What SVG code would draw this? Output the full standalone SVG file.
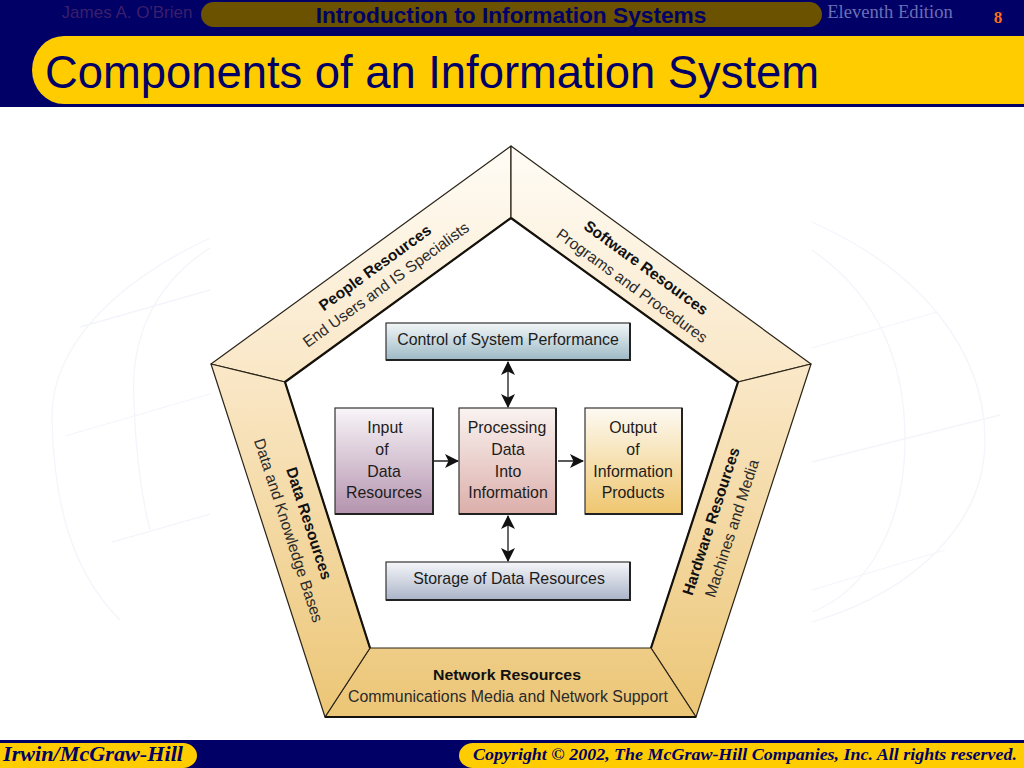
<svg xmlns="http://www.w3.org/2000/svg" width="1024" height="768" viewBox="0 0 1024 768">
<style>
.sans{font-family:"Liberation Sans",Arial,sans-serif}
.serif{font-family:"Liberation Serif","Times New Roman",serif}
.seg{stroke:#2a2418;stroke-width:1.2;stroke-linejoin:round;fill:url(#band)}
.edge{fill:none;stroke:#15120c;stroke-width:2.2;stroke-linejoin:round}
.box{stroke:#333;stroke-width:1.2}
.shade{fill:none;stroke:#222;stroke-width:2}
.lbl{font-family:"Liberation Sans",Arial,sans-serif;font-size:15.9px;fill:#1c1c1c;text-anchor:middle}
.bt{font-family:"Liberation Sans",Arial,sans-serif;font-size:15.5px;font-weight:bold;fill:#111;text-anchor:middle}
.st{font-family:"Liberation Sans",Arial,sans-serif;font-size:15.6px;fill:#2a2a2a;text-anchor:middle}
.conn{stroke:#444;stroke-width:1.6;fill:none}
.conn2{stroke:#222;stroke-width:1.5;fill:none}
.globe{fill:none;stroke:#f4f5fb;stroke-width:1.3}
.foot{font-family:"Liberation Serif","Times New Roman",serif;font-style:italic;font-weight:bold;fill:#000066}
</style>
<defs>
<linearGradient id="band" gradientUnits="userSpaceOnUse" x1="0" y1="146" x2="0" y2="717"><stop offset="0" stop-color="#fffcf6"/><stop offset=".42" stop-color="#f9e6c4"/><stop offset="1" stop-color="#ecc676"/></linearGradient>
<linearGradient id="g1" x1="0" y1="0" x2="0" y2="1"><stop offset="0" stop-color="#f2f6f7"/><stop offset="1" stop-color="#9dbac6"/></linearGradient>
<linearGradient id="g2" x1="0" y1="0" x2="0" y2="1"><stop offset="0" stop-color="#f8f5f8"/><stop offset="1" stop-color="#b493ae"/></linearGradient>
<linearGradient id="g3" x1="0" y1="0" x2="0" y2="1"><stop offset="0" stop-color="#f9f3f0"/><stop offset="1" stop-color="#dcaeaa"/></linearGradient>
<linearGradient id="g4" x1="0" y1="0" x2="0" y2="1"><stop offset="0" stop-color="#fdfaf3"/><stop offset="1" stop-color="#efc66e"/></linearGradient>
<linearGradient id="g5" x1="0" y1="0" x2="0" y2="1"><stop offset="0" stop-color="#f5f6f9"/><stop offset="1" stop-color="#aab4c8"/></linearGradient>
<marker id="ah" viewBox="0 0 14 14" refX="13" refY="7" markerWidth="14" markerHeight="14" markerUnits="userSpaceOnUse" orient="auto-start-reverse"><path d="M0 0L14 7L0 14L3.500 7Z" fill="#111"/></marker>
</defs>
<rect width="1024" height="768" fill="#fff"/>
<g id="background">
<path class="globe" d="M210 238C110 285 50 350 52 420C54 500 70 570 120 620M210 248C160 280 130 330 134 400C136 470 145 510 150 530M80 327L210 290M65 436L210 394M112 542L210 514"/>
<path class="globe" d="M812 222C920 270 985 350 985 440C985 520 920 590 812 622M812 250C870 290 905 350 905 440C905 520 870 590 812 612M812 348L937 312M812 462L1000 415M812 590L945 550"/>
</g>
<g id="header">
<rect width="1024" height="107" fill="#000066"/>
<rect x="201" y="2" width="621" height="25" rx="12.5" fill="#6b5200"/>
<path d="M64 104A32 34 0 0 1 64 36H1024V104Z" fill="#ffcc00"/>
<text class="sans" x="127" y="18" font-size="17" text-anchor="middle" fill="#3b1f6b">James A. O'Brien</text>
<text class="sans" x="511" y="23" font-size="22.7" font-weight="bold" text-anchor="middle" fill="#000066">Introduction to Information Systems</text>
<text class="serif" x="890" y="18" font-size="18.600" text-anchor="middle" fill="#6b6fb5">Eleventh Edition</text>
<text class="serif" x="998" y="23" font-size="17" font-weight="bold" text-anchor="middle" fill="#ff6a1a">8</text>
<text class="sans" x="45" y="88" font-size="46" textLength="774" lengthAdjust="spacingAndGlyphs" fill="#000066">Components of an Information System</text>
</g>
<g id="people-resources">
<polygon class="seg" points="511,146 511,218 285,382 211,364"/>
<text class="bt" transform="translate(378,272) rotate(-36)">People Resources</text>
<text class="st" transform="translate(389,289) rotate(-36)">End Users and IS Specialists</text>
</g>
<g id="software-resources">
<polygon class="seg" points="511,146 811,364 738,382 511,218"/>
<text class="bt" transform="translate(643,272) rotate(36)">Software Resources</text>
<text class="st" transform="translate(629,290) rotate(36)">Programs and Procedures</text>
</g>
<g id="hardware-resources">
<polygon class="seg" points="811,364 696,717 651,648 738,382"/>
<text class="bt" transform="translate(716,523) rotate(-72)">Hardware Resources</text>
<text class="st" transform="translate(737,530) rotate(-72)">Machines and Media</text>
</g>
<g id="network-resources">
<polygon class="seg" points="370,648 651,648 696,717 325,717"/>
<text class="bt" x="507" y="680" textLength="148" lengthAdjust="spacingAndGlyphs">Network Resources</text>
<text class="st" x="508" y="702" textLength="320" lengthAdjust="spacingAndGlyphs">Communications Media and Network Support</text>
</g>
<g id="data-resources">
<polygon class="seg" points="211,364 285,382 370,648 325,717"/>
<text class="bt" transform="translate(304,525) rotate(72)">Data Resources</text>
<text class="st" transform="translate(283.500,532) rotate(72)">Data and Knowledge Bases</text>
</g>
<path class="edge" d="M325 717H696M511 218L285 382L370 648M651 648L738 382L511 218"/>
<g id="control">
<rect class="box" x="386" y="323" width="244" height="37" fill="url(#g1)"/>
<path class="shade" d="M386 360H630V323"/>
<text class="lbl" x="508" y="345">Control of System Performance</text>
</g>
<g id="input">
<rect class="box" x="335" y="408" width="98" height="106" fill="url(#g2)"/>
<path class="shade" d="M335 514H433V408"/>
<text class="lbl" x="385" y="433">Input</text><text class="lbl" x="382" y="455">of</text><text class="lbl" x="384" y="477">Data</text><text class="lbl" x="384" y="498">Resources</text>
</g>
<g id="processing">
<rect class="box" x="459" y="408" width="97" height="106" fill="url(#g3)"/>
<path class="shade" d="M459 514H556V408"/>
<text class="lbl" x="507" y="433">Processing</text><text class="lbl" x="508" y="455">Data</text><text class="lbl" x="508" y="477">Into</text><text class="lbl" x="508" y="498">Information</text>
</g>
<g id="output">
<rect class="box" x="585" y="408" width="97" height="106" fill="url(#g4)"/>
<path class="shade" d="M585 514H682V408"/>
<text class="lbl" x="633" y="433">Output</text><text class="lbl" x="633" y="455">of</text><text class="lbl" x="633" y="477">Information</text><text class="lbl" x="633" y="498">Products</text>
</g>
<g id="storage">
<rect class="box" x="386" y="562" width="244" height="38" fill="url(#g5)"/>
<path class="shade" d="M386 600H630V562"/>
<text class="lbl" x="509" y="584">Storage of Data Resources</text>
</g>
<g id="connectors">
<path class="conn" d="M508 362V407" marker-start="url(#ah)" marker-end="url(#ah)"/>
<path class="conn" d="M508 516V561" marker-start="url(#ah)" marker-end="url(#ah)"/>
<path class="conn2" d="M434 461H458" marker-end="url(#ah)"/>
<path class="conn2" d="M558 461H583" marker-end="url(#ah)"/>
</g>
<g id="footer">
<rect y="740" width="1024" height="28" fill="#000066"/>
<path d="M0 743H183A14 12.500 0 0 1 197 755.500A14 12.500 0 0 1 183 768H0Z" fill="#ffcc00"/>
<path d="M1024 743H473A14 12.500 0 0 0 459 755.500A14 12.500 0 0 0 473 768H1024Z" fill="#ffcc00"/>
<text class="foot" x="3" y="761" font-size="20" textLength="180" lengthAdjust="spacingAndGlyphs">Irwin/McGraw-Hill</text>
<text class="foot" x="473" y="760" font-size="17.500" textLength="544" lengthAdjust="spacingAndGlyphs">Copyright © 2002, The McGraw-Hill Companies, Inc. All rights reserved.</text>
</g>
</svg>
